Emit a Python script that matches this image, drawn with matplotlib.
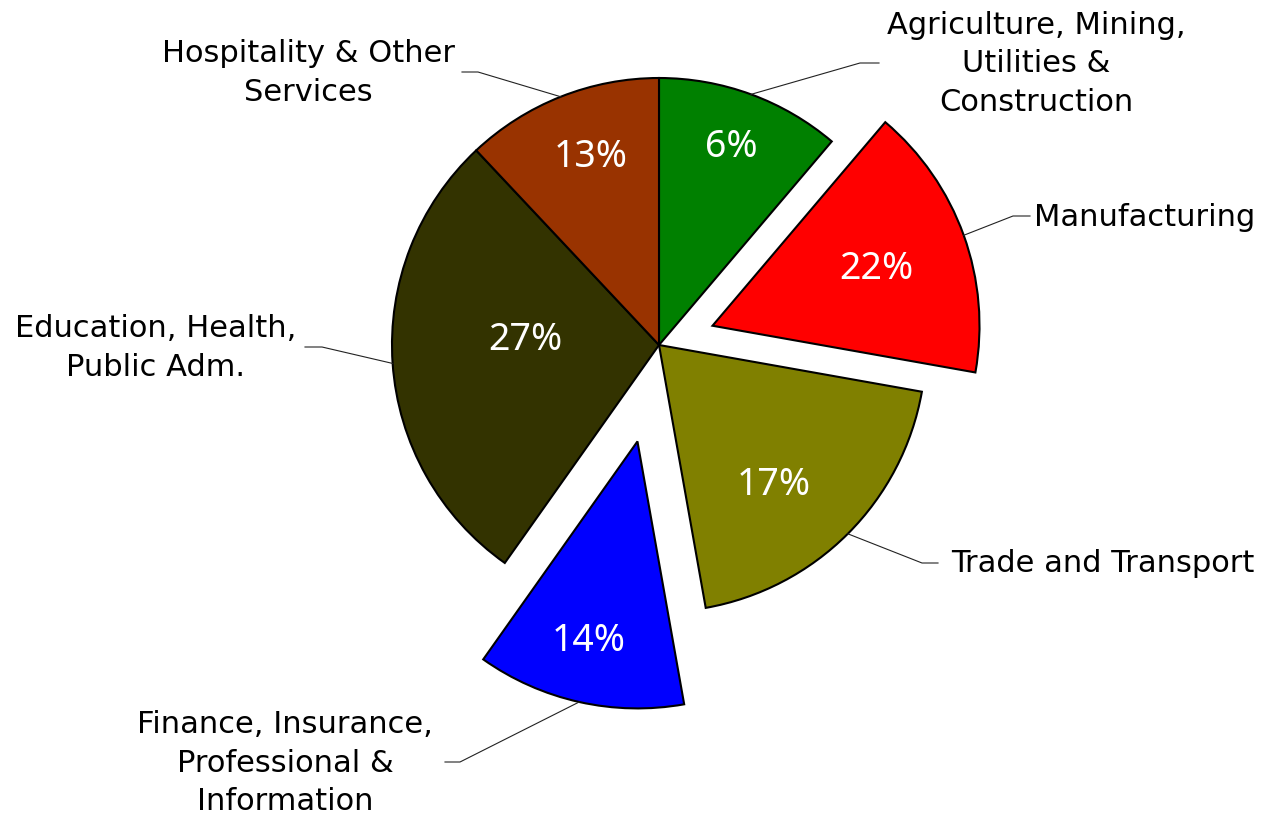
import numpy as np
import matplotlib
matplotlib.use("Agg")
import matplotlib.pyplot as plt

# sector labels, clockwise from 12 o'clock
sectors = [
    "Agriculture, Mining,\nUtilities &\nConstruction",
    "Manufacturing",
    "Trade and Transport",
    "Finance, Insurance,\nProfessional &\nInformation",
    "Education, Health,\nPublic Adm.",
    "Hospitality & Other\nServices",
]
# wedge sizes as drawn (share of the circle, %)
shares = [11.2, 16.6, 19.4, 12.6, 28.2, 12.0]
# percent labels as printed on the chart
pct_labels = ["6%", "22%", "17%", "14%", "27%", "13%"]
colors = ["#008000", "#FF0000", "#808000", "#0000FF", "#333300", "#993300"]
explode = [0, 0.213, 0, 0.37, 0, 0]

# layout: pixel geometry of the reference
W, H = 1268, 819
CX, CY, R = 659, 345, 267


def px(x, y):
    return (x - CX) / R, (CY - y) / R


# (radius, angle offset in deg) of the percent text within each wedge
pct_place = [(0.79, 0), (0.65, -0.7), (0.68, -5.7), (0.77, -1.0), (0.50, -6.0), (0.75, -1.8)]
# outer label block centres and leader elbows/ends, in pixels
label_pos = [(1036, 64), (1145, 217), (1103, 564), (285, 763), (156, 348), (308, 73)]
elbows = [((860, 63), (879, 63)), ((1013, 216), (1030, 216)), ((922, 563), (938, 563)),
          ((460, 762), (445, 762)), ((322, 347), (305, 347)), ((478, 72), (462, 72))]

fig = plt.figure(figsize=(W / 100, H / 100), dpi=100)
ax = fig.add_axes([0, 0, 1, 1])
ax.axis("off")

wedges, _ = ax.pie(shares, colors=colors, explode=explode, startangle=90,
                   counterclock=False, radius=1,
                   wedgeprops=dict(edgecolor="black", linewidth=1.5))
ax.set_xlim(-CX / R, (W - CX) / R)
ax.set_ylim(-(H - CY) / R, CY / R)

for w, txt, (rr, off), name, lp, (elb, end) in zip(wedges, pct_labels, pct_place,
                                                    sectors, label_pos, elbows):
    cx, cy = w.center
    mid = np.deg2rad((w.theta1 + w.theta2) / 2)
    a = mid + np.deg2rad(off)
    ax.text(cx + rr * np.cos(a), cy + rr * np.sin(a), txt, color="white",
            fontsize=27, family=["Noto Sans", "DejaVu Sans"],
            ha="center", va="center")
    sx, sy = cx + np.cos(mid), cy + np.sin(mid)
    ex, ey = px(*elb)
    fx, fy = px(*end)
    ax.plot([sx, ex, fx], [sy, ey, fy], color="#222222", lw=0.8)
    tx, ty = px(*lp)
    ax.text(tx, ty, name, fontsize=22, family="DejaVu Sans", ha="center",
            va="center", multialignment="center", linespacing=1.42)

fig.savefig("out.png", dpi=100)
